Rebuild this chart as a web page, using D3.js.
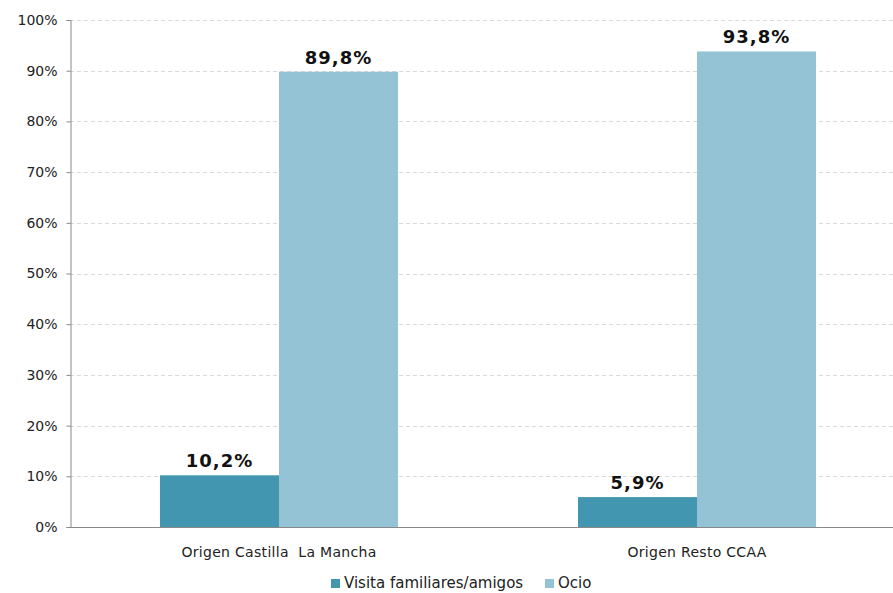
<!DOCTYPE html>
<head>
  <meta charset="utf-8">
  <script src="https://d3js.org/d3.v7.min.js"></script>
  <style>
    body { margin:0; background:#fff; }
    svg { display:block; }
    text { font-family: "DejaVu Sans", Verdana, sans-serif; fill:#222; }
  </style>
</head>
<body>
  <svg width="893" height="593"></svg>
  <script>
    var categories = ['Origen Castilla  La Mancha', 'Origen Resto CCAA'];
    var series = ['Visita familiares/amigos', 'Ocio'];
    var visita = [10.2, 5.9];
    var ocio = [89.8, 93.8];
    var yTicks = [0, 10, 20, 30, 40, 50, 60, 70, 80, 90, 100];
    var colors = ['#4396b0', '#93c3d5'];

    var margin = {top: 20, left: 70, bottom: 66};
    var height = 593;
    var plotRight = 906;

    var svg = d3.select('svg');

    var xScale = d3.scaleBand()
      .domain(categories)
      .range([margin.left, plotRight])
      .paddingInner(0)
      .paddingOuter(0);

    var xInner = d3.scaleBand()
      .domain(series)
      .range([0, xScale.bandwidth()])
      .paddingInner(0)
      .paddingOuter(0.756);

    var yScale = d3.scaleLinear()
      .domain([0, 100])
      .range([height - margin.bottom, margin.top]);

    // grid
    svg.append('g')
      .selectAll('line')
      .data(yTicks.filter(d => d > 0))
      .join('line')
      .attr('x1', margin.left)
      .attr('x2', 893)
      .attr('y1', d => Math.round(yScale(d)) + 0.5)
      .attr('y2', d => Math.round(yScale(d)) + 0.5)
      .attr('stroke', '#d9d9d9')
      .attr('stroke-dasharray', '4,3');

    var data = [];
    categories.forEach((c, i) => {
      data.push({cat: c, s: series[0], v: visita[i]});
      data.push({cat: c, s: series[1], v: ocio[i]});
    });

    svg.append('g')
      .selectAll('rect')
      .data(data)
      .join('rect')
      .attr('x', d => xScale(d.cat) + xInner(d.s))
      .attr('width', xInner.bandwidth())
      .attr('y', d => yScale(d.v))
      .attr('height', d => yScale(0) - yScale(d.v))
      .attr('fill', d => colors[series.indexOf(d.s)]);

    svg.append('g')
      .selectAll('text')
      .data(data)
      .join('text')
      .attr('x', d => xScale(d.cat) + xInner(d.s) + xInner.bandwidth() / 2)
      .attr('y', d => yScale(d.v) - 8)
      .attr('text-anchor', 'middle')
      .style('font-size', '18px')
      .style('font-weight', 'bold')
      .style('fill', '#111')
      .style('letter-spacing', '1px')
      .text(d => d.v.toFixed(1).replace('.', ',') + '%');

    // y axis
    var eixoY = d3.axisLeft(yScale)
      .tickValues(yTicks)
      .tickSize(4)
      .tickFormat(d => d + '%');
    var gy = svg.append('g')
      .attr('transform', 'translate(' + [margin.left + 0.5, 0] + ')')
      .call(eixoY);
    gy.select('.domain').attr('stroke', '#888');
    gy.selectAll('.tick line').attr('stroke', '#888');
    gy.selectAll('.tick text').style('font-size', '14px').style('fill', '#222').attr('x', -13);

    // x axis
    var gx = svg.append('g')
      .attr('transform', 'translate(0,' + (yScale(0) + 0.5) + ')');
    gx.append('line')
      .attr('x1', margin.left).attr('x2', 893)
      .attr('stroke', '#888');
    gx.selectAll('text')
      .data(categories)
      .join('text')
      .attr('x', d => xScale(d) + xScale.bandwidth() / 2)
      .attr('y', 29)
      .attr('text-anchor', 'middle')
      .style('font-size', '14px')
      .style('letter-spacing', '0.3px')
      .style('white-space', 'pre')
      .attr('xml:space', 'preserve')
      .text(d => d);

    // legend
    var legend = svg.append('g').attr('transform', 'translate(331,584)');
    var offs = [0, 214];
    series.forEach((s, i) => {
      legend.append('rect')
        .attr('x', offs[i]).attr('y', -5)
        .attr('width', 9).attr('height', 9)
        .attr('fill', colors[i]);
      legend.append('text')
        .attr('x', offs[i] + 13).attr('y', 4)
        .style('font-size', '15px')
        .text(s);
    });
  </script>
</body>
